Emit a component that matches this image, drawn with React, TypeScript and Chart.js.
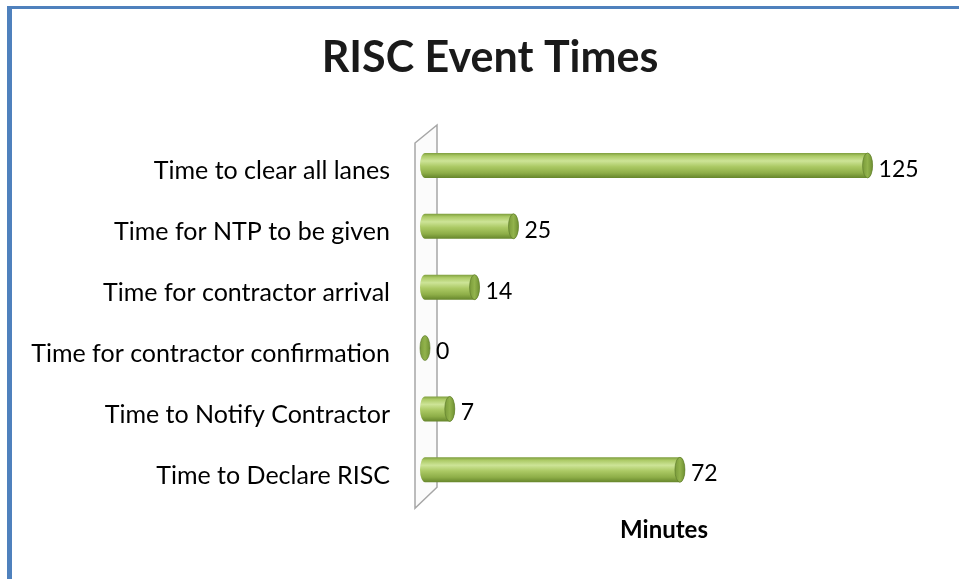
import React, { useEffect, useRef } from 'react';
import { Chart, registerables } from 'chart.js';

Chart.register(...registerables);

const categories = [
  'Time to clear all lanes',
  'Time for NTP to be given',
  'Time for contractor arrival',
  'Time for contractor confirmation',
  'Time to Notify Contractor',
  'Time to Declare RISC',
];
const minutes = [125, 25, 14, 0, 7, 72];
const titleText = 'RISC Event Times';
const axisTitle = 'Minutes';
const xMax = 135;

const FONT = 'Lato, "Liberation Sans", sans-serif';

const titlePlugin = {
  id: 'centeredTitle',
  afterDraw(chart: any) {
    const { ctx } = chart;
    ctx.save();
    ctx.fillStyle = '#1a1a1a';
    ctx.font = `bold 43px ${FONT}`;
    ctx.textAlign = 'center';
    ctx.textBaseline = 'middle';
    ctx.fillText(titleText, 490, 58);
    ctx.restore();
  },
};

const wallPlugin = {
  id: 'wall3d',
  beforeDatasetsDraw(chart: any) {
    const { ctx, chartArea } = chart;
    const l = chartArea.left;
    const t = chartArea.top;
    const b = chartArea.bottom;
    ctx.save();
    ctx.beginPath();
    ctx.moveTo(l - 10, t + 8);
    ctx.lineTo(l + 12, t - 10);
    ctx.lineTo(l + 12, b - 13);
    ctx.lineTo(l - 10, b + 8);
    ctx.closePath();
    ctx.fillStyle = '#fbfbfb';
    ctx.fill();
    ctx.strokeStyle = '#a6a6a6';
    ctx.lineWidth = 1.5;
    ctx.stroke();
    ctx.restore();
  },
};

const cylinderPlugin = {
  id: 'cylinders',
  afterDatasetsDraw(chart: any) {
    const { ctx } = chart;
    const meta = chart.getDatasetMeta(0);
    const values = chart.data.datasets[0].data as number[];
    meta.data.forEach((bar: any, i: number) => {
      const { x, y, base, height } = bar.getProps(['x', 'y', 'base', 'height'], true);
      const h = height;
      const r = h / 2;
      const rx = 5;
      const top = y - r;
      ctx.save();
      const g = ctx.createLinearGradient(0, top, 0, top + h);
      g.addColorStop(0, '#7e9e3e');
      g.addColorStop(0.12, '#acca66');
      g.addColorStop(0.32, '#cde497');
      g.addColorStop(0.55, '#abc964');
      g.addColorStop(0.8, '#8eae48');
      g.addColorStop(1, '#66862c');
      if (x - base > 0.5) {
        ctx.beginPath();
        ctx.moveTo(base, top);
        ctx.lineTo(x, top);
        ctx.ellipse(x, y, rx, r, 0, -Math.PI / 2, Math.PI / 2, false);
        ctx.lineTo(base, top + h);
        ctx.ellipse(base, y, rx, r, 0, Math.PI / 2, (3 * Math.PI) / 2, false);
        ctx.closePath();
        ctx.fillStyle = g;
        ctx.fill();
      }
      // end cap
      ctx.beginPath();
      ctx.ellipse(x, y, rx, r, 0, 0, Math.PI * 2);
      const cg = ctx.createLinearGradient(x - rx, 0, x + rx, 0);
      cg.addColorStop(0, '#7a9b3a');
      cg.addColorStop(0.5, '#92b34c');
      cg.addColorStop(1, '#6f9032');
      ctx.fillStyle = cg;
      ctx.fill();
      ctx.strokeStyle = 'rgba(90,120,40,0.6)';
      ctx.lineWidth = 1;
      ctx.stroke();
      // value label
      ctx.fillStyle = '#000000';
      ctx.font = `23px ${FONT}`;
      ctx.textAlign = 'left';
      ctx.textBaseline = 'middle';
      ctx.fillText(String(values[i]), x + 11, y + 4);
      ctx.restore();
    });
  },
};

export default function App() {
  const ref = useRef<HTMLCanvasElement | null>(null);

  useEffect(() => {
    if (!ref.current) return;
    const chart = new Chart(ref.current, {
      type: 'bar',
      data: {
        labels: categories,
        datasets: [
          {
            label: axisTitle,
            data: minutes,
            backgroundColor: 'rgba(0,0,0,0)',
            borderWidth: 0,
            categoryPercentage: 1,
            barPercentage: 0.41,
          },
        ],
      },
      options: {
        indexAxis: 'y',
        animation: false,
        responsive: false,
        maintainAspectRatio: false,
        layout: { padding: { left: 0, right: 56, top: 135, bottom: 34 } },
        plugins: {
          legend: { display: false },
          tooltip: { enabled: false },
          title: { display: false },
        },
        scales: {
          x: {
            min: 0,
            max: xMax,
            grid: { display: false, drawTicks: false },
            border: { display: false },
            ticks: { display: false },
            title: {
              display: true,
              text: axisTitle,
              color: '#000000',
              font: { family: FONT, size: 24, weight: 'bold' },
              padding: { top: 16, bottom: 0 },
            },
          },
          y: {
            grid: { display: false, drawTicks: false },
            border: { display: false },
            ticks: {
              color: '#000000',
              font: { family: FONT, size: 25 },
              padding: 35,
              labelOffset: 6,
            },
            afterFit(scale: any) {
              scale.width = 425;
            },
          },
        },
      },
      plugins: [wallPlugin, cylinderPlugin, titlePlugin],
    } as any);
    return () => chart.destroy();
  }, []);

  return (
    <div style={{ position: 'fixed', left: 0, top: 0, width: 959, height: 579, background: '#ffffff', overflow: 'hidden' }}>
      <div
        style={{
          position: 'absolute',
          left: 7,
          top: 6,
          width: 1000,
          height: 600,
          borderLeft: '5px solid #4F81BD',
          borderTop: '3px solid #4F81BD',
          background: '#ffffff',
        }}
      />
      <canvas ref={ref} width={959} height={579} style={{ position: 'absolute', left: 0, top: 0, width: 959, height: 579 }} />
    </div>
  );
}
